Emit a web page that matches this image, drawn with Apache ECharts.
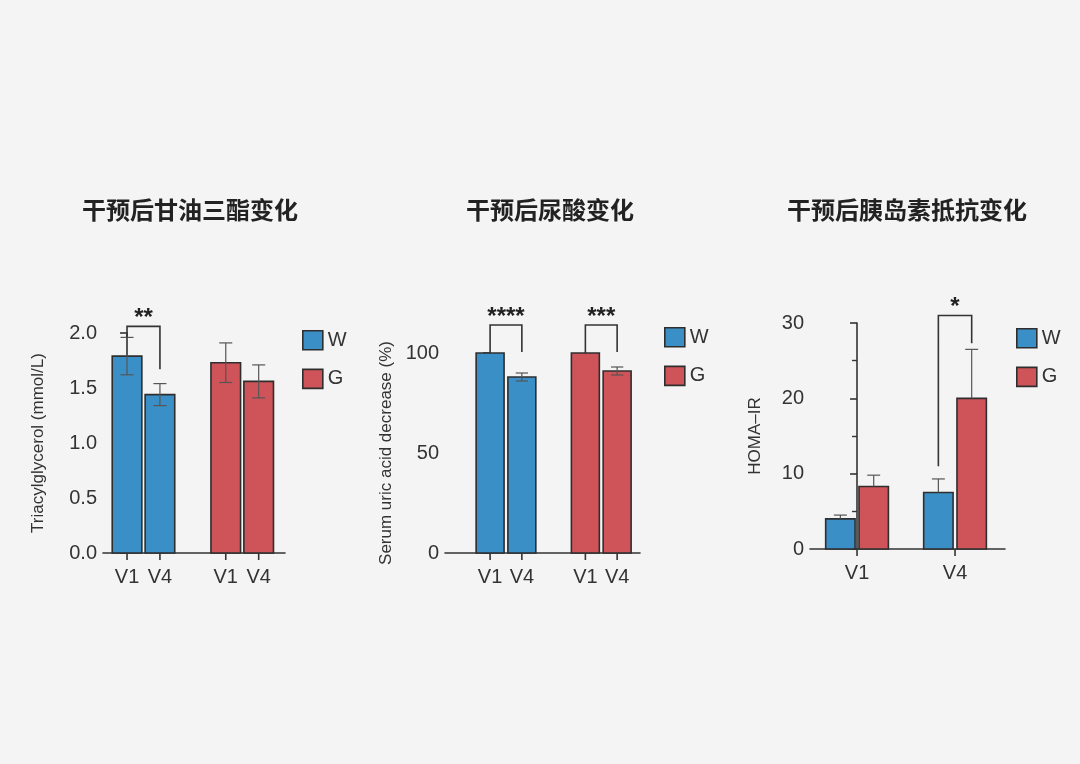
<!DOCTYPE html><html><head><meta charset="utf-8"><script src="https://cdn.jsdelivr.net/npm/echarts@6/dist/echarts.min.js"></script>
<style>html,body{margin:0;background:#f4f4f4}#c{width:1080px;height:764px}</style></head><body><div id="c"></div><script>
// Panel 1: Triacylglycerol
const p1Labels = ['V1','V4','','V1','V4'];
const p1W = [1.79, 1.44];      const p1WErr = [0.17, 0.10];
const p1G = [1.73, 1.56];      const p1GErr = [0.18, 0.15];
// Panel 2: uric acid
const p2Labels = ['V1','V4','','V1','V4'];
const p2W = [100, 88];         const p2WErr = [0, 2];
const p2G = [100, 91];         const p2GErr = [0, 2];
// Panel 3: HOMA-IR
const p3Labels = ['V1','V4'];
const p3W = [4.0, 7.5];        const p3WErr = [0.5, 1.8];
const p3G = [8.3, 20.0];       const p3GErr = [1.5, 6.5];
const titles = ['干预后甘油三酯变化','干预后尿酸变化','干预后胰岛素抵抗变化'];
const yNames = ['Triacylglycerol (mmol/L)','Serum uric acid decrease (%)','HOMA–IR'];
const BLUE='#3a8fc6', RED='#cf545a', EDGE='#2e2e2e', TXT='#333';
const F='Liberation Sans, Arial, sans-serif';

const p1Items=[[0,p1W[0],p1WErr[0],0,1],[1,p1W[1],p1WErr[1],0,1],[3,p1G[0],p1GErr[0],1,1],[4,p1G[1],p1GErr[1],1,1]];
const p2Items=[[0,p2W[0],p2WErr[0],0,1],[1,p2W[1],p2WErr[1],0,1],[3,p2G[0],p2GErr[0],1,1],[4,p2G[1],p2GErr[1],1,1]];
const p3Items=[[-0.17,p3W[0],p3WErr[0],0,0],[0.17,p3G[0],p3GErr[0],1,0],[0.83,p3W[1],p3WErr[1],0,0],[1.17,p3G[1],p3GErr[1],1,0]];

function barSeries(idx, items, halfW){
  return {type:'custom',xAxisIndex:idx,yAxisIndex:idx,clip:false,data:items,
    renderItem:(p,api)=>{
      const x=api.value(0),v=api.value(1),e=api.value(2),c=api.value(3),both=api.value(4);
      const tl=api.coord([x-halfW,v]),br=api.coord([x+halfW,0]);
      const ch=[{type:'rect',shape:{x:tl[0],y:tl[1],width:br[0]-tl[0],height:br[1]-tl[1]},style:{fill:c?RED:BLUE,stroke:EDGE,lineWidth:1.6}}];
      if(e>0){const top=api.coord([x,v+e]),bot=api.coord([x,both?v-e:v]);const cw=(br[0]-tl[0])*0.22;
        ch.push({type:'line',shape:{x1:top[0],y1:top[1],x2:bot[0],y2:bot[1]},style:{stroke:'#555',lineWidth:1.2}});
        ch.push({type:'line',shape:{x1:top[0]-cw,y1:top[1],x2:top[0]+cw,y2:top[1]},style:{stroke:'#555',lineWidth:1.2}});
        if(both)ch.push({type:'line',shape:{x1:bot[0]-cw,y1:bot[1],x2:bot[0]+cw,y2:bot[1]},style:{stroke:'#555',lineWidth:1.2}});}
      return {type:'group',children:ch};
    }};
}
function bracket(idx, data){
  return {type:'custom',xAxisIndex:idx,yAxisIndex:idx,clip:false,data:data,
    renderItem:(p,api)=>{
      const a=api.coord([api.value(0),api.value(2)]),b=api.coord([api.value(1),api.value(2)]);
      const l=api.coord([api.value(0),api.value(3)]),r=api.coord([api.value(1),api.value(4)]);
      return {type:'group',children:[
        {type:'polyline',shape:{points:[[l[0],l[1]],[a[0],a[1]],[b[0],b[1]],[r[0],r[1]]]},style:{stroke:'#333',lineWidth:1.6,fill:null}},
        {type:'text',style:{x:(a[0]+b[0])/2,y:a[1]+4,text:data[p.dataIndex][5],fill:'#222',font:'bold 24px '+F,align:'center',verticalAlign:'bottom'}}]};
    }};
}
// x ticks + labels: [x, label]
function xTicks(idx, xs, labels){
  return {type:'custom',xAxisIndex:idx,yAxisIndex:idx,clip:false,data:xs.map((x,i)=>[x,0,labels[i]]),
    renderItem:(p,api)=>{const c=api.coord([api.value(0),0]);return {type:'group',children:[
      {type:'line',shape:{x1:c[0],y1:c[1],x2:c[0],y2:c[1]+7},style:{stroke:'#333',lineWidth:1.6}},
      {type:'text',style:{x:c[0],y:c[1]+14,text:labels[p.dataIndex],fill:TXT,font:'20px '+F,align:'center',verticalAlign:'top'}}]};}};
}
function xAxis(idx,min,max){
  return {type:'value',gridIndex:idx,min:min,max:max,splitLine:{show:false},axisTick:{show:false},axisLabel:{show:false},
    axisLine:{lineStyle:{color:'#333',width:1.6}}};
}
function yAxis(idx,max,interval,name,gap,dec){
  return {type:'value',gridIndex:idx,min:0,max:max,interval:interval,name:name,nameLocation:'middle',nameGap:gap,
    nameTextStyle:{color:TXT,fontSize:17,fontFamily:F},splitLine:{show:false},
    axisLine:{show:true,lineStyle:{color:'#333',width:1.6}},axisTick:{show:true,length:7,lineStyle:{width:1.6}},
    minorTick:{show:true,splitNumber:2,length:5,lineStyle:{color:'#333',width:1.4}},
    axisLabel:{color:TXT,fontSize:20,fontFamily:F,margin:6,formatter:v=>v.toFixed(dec)}};
}
function legend(left,top){
  return {left:left,top:top,orient:'vertical',itemWidth:20,itemHeight:19,itemGap:18,icon:'rect',
    textStyle:{color:TXT,fontSize:20,fontFamily:F},
    data:[{name:'W',itemStyle:{color:BLUE,borderColor:EDGE,borderWidth:1.6}},{name:'G',itemStyle:{color:RED,borderColor:EDGE,borderWidth:1.6}}]};
}
const dummy=(n,c)=>({name:n,type:'bar',xAxisIndex:0,yAxisIndex:0,data:[],itemStyle:{color:c}});
const option={
  backgroundColor:'#f4f4f4',animation:false,
  title:titles.map((t,i)=>({text:t,left:[185,545,902][i],top:193,textAlign:'center',textStyle:{fontSize:24,fontWeight:'bold',color:'#222',fontFamily:'Noto Sans CJK SC'}})),
  legend:[legend(297,325),legend(659,322),legend(1011,323)],
  grid:[{left:103,width:182,top:333,height:220},{left:445,width:195,top:353,height:200},{left:810,width:195,top:323,height:226}],
  xAxis:[xAxis(0,-0.73,4.8),xAxis(1,-1.42,4.72),xAxis(2,-0.48,1.51)],
  yAxis:[yAxis(0,2,0.5,yNames[0],56,1),yAxis(1,100,50,yNames[1],50,0),yAxis(2,30,10,yNames[2],46,0)],
  series:[dummy('W',BLUE),dummy('G',RED),
    barSeries(0,p1Items,0.45),barSeries(1,p2Items,0.44),barSeries(2,p3Items,0.15),
    xTicks(0,[0,1,3,4],['V1','V4','V1','V4']),xTicks(1,[0,1,3,4],['V1','V4','V1','V4']),xTicks(2,[0,1],p3Labels),
    bracket(0,[[0,1,2.06,1.96,1.67,'**']]),
    bracket(1,[[0,1,114,100,100.5,'****'],[3,4,114,100,100.5,'***']]),
    bracket(2,[[0.83,1.17,31,11,27.3,'*']])]
};
echarts.init(document.getElementById('c')).setOption(option);
</script></body></html>
